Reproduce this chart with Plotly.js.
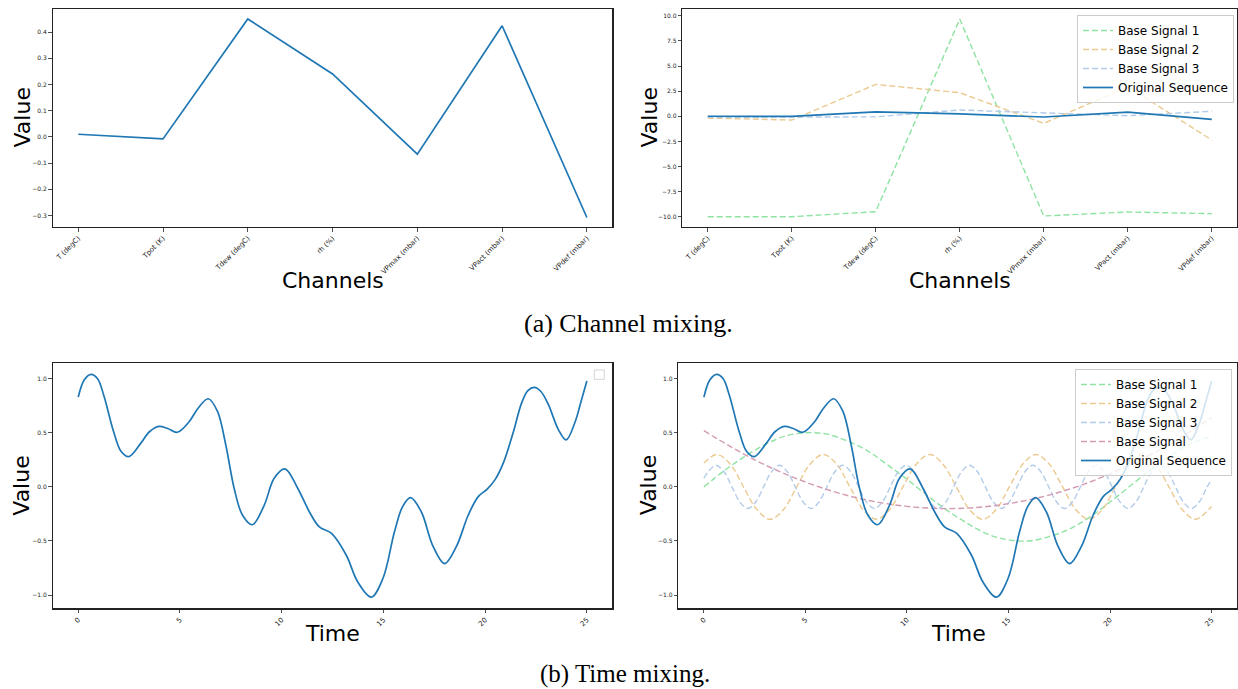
<!DOCTYPE html>
<html>
<head>
<meta charset="utf-8">
<script src="https://cdn.plot.ly/plotly-3.0.1.min.js"></script>
<style>html,body{margin:0;padding:0;background:#fff;}#chart{width:1238px;height:689px;}</style>
</head>
<body>
<div id="chart"></div>
<script>
// ---------- (a) Channel mixing data ----------
const channels = ['T (degC)', 'Tpot (K)', 'Tdew (degC)', 'rh (%)', 'VPmax (mbar)', 'VPact (mbar)', 'VPdef (mbar)'];
const channelOriginal = [0.010, -0.008, 0.450, 0.240, -0.066, 0.424, -0.308];
const channelBase1 = [-9.99, -9.99, -9.49, 9.68, -9.92, -9.52, -9.69];
const channelBase2 = [-0.17, -0.37, 3.18, 2.35, -0.70, 2.95, -2.36];
const channelBase3 = [-0.10, -0.04, -0.05, 0.63, 0.36, 0.06, 0.50];

// ---------- (b) Time mixing data ----------
const origT = [0, 0.3, 0.63, 0.95, 1.25, 1.74, 2.1, 2.48, 3.06, 3.5, 3.96, 4.4, 4.87, 5.44, 5.9, 6.39, 6.84, 7.25, 7.66, 8.07, 8.56, 9.14, 9.63, 10.16, 10.78, 11.36, 11.85, 12.45, 13.17, 13.74, 14.4, 14.97, 15.55, 15.95, 16.34, 16.86, 17.44, 18.01, 18.59, 19.17, 19.66, 20.1, 20.48, 20.89, 21.39, 21.79, 22.1, 22.42, 22.75, 23.11, 23.6, 23.98, 24.42, 24.7, 25];
const origV = [0.83, 0.99, 1.04, 1.00, 0.85, 0.51, 0.33, 0.28, 0.40, 0.51, 0.56, 0.54, 0.505, 0.60, 0.73, 0.815, 0.70, 0.39, -0.01, -0.26, -0.35, -0.17, 0.08, 0.167, -0.01, -0.23, -0.37, -0.43, -0.63, -0.88, -1.02, -0.85, -0.41, -0.18, -0.10, -0.23, -0.55, -0.71, -0.55, -0.26, -0.09, -0.02, 0.065, 0.22, 0.51, 0.775, 0.89, 0.92, 0.88, 0.76, 0.53, 0.435, 0.60, 0.78, 0.98];

const base1T = [0, 1, 2, 3, 4, 5, 6, 7, 8, 9, 10, 11, 12, 13, 14, 15, 16, 17, 18, 19, 20, 21, 22, 23, 24, 25];
const base1V = [0, 0.15, 0.28, 0.39, 0.47, 0.50, 0.49, 0.43, 0.34, 0.21, 0.07, -0.08, -0.22, -0.34, -0.44, -0.49, -0.50, -0.46, -0.39, -0.28, -0.14, 0.01, 0.16, 0.29, 0.40, 0.47];

const base2T = [0, 0.64, 1.30, 1.95, 2.61, 3.26, 3.92, 4.57, 5.23, 5.88, 6.54, 7.19, 7.84, 8.49, 9.15, 9.80, 10.46, 11.12, 11.77, 12.43, 13.08, 13.73, 14.39, 15.04, 15.70, 16.35, 17.01, 17.66, 18.31, 18.96, 19.62, 20.27, 20.93, 21.59, 22.24, 22.90, 23.55, 24.20, 24.86, 25];
const base2V = [0.22, 0.30, 0.21, 0, -0.21, -0.30, -0.21, 0, 0.21, 0.30, 0.21, 0, -0.21, -0.30, -0.21, 0, 0.21, 0.30, 0.21, 0, -0.21, -0.30, -0.21, 0, 0.21, 0.30, 0.21, 0, -0.21, -0.30, -0.21, 0, 0.21, 0.30, 0.21, 0, -0.21, -0.30, -0.21, -0.18];

const base3T = [0, 0.21, 0.60, 0.99, 1.38, 1.77, 2.16, 2.55, 2.94, 3.33, 3.72, 4.11, 4.50, 4.89, 5.28, 5.67, 6.06, 6.45, 6.84, 7.23, 7.62, 8.01, 8.40, 8.79, 9.18, 9.57, 9.96, 10.35, 10.74, 11.13, 11.52, 11.91, 12.30, 12.69, 13.08, 13.47, 13.86, 14.25, 14.64, 15.03, 15.42, 15.81, 16.20, 16.59, 16.98, 17.37, 17.76, 18.15, 18.54, 18.93, 19.32, 19.71, 20.10, 20.49, 20.88, 21.27, 21.66, 22.05, 22.44, 22.83, 23.22, 23.61, 24.00, 24.39, 24.78, 25];
const base3V = [0.08, 0.14, 0.20, 0.14, 0, -0.14, -0.20, -0.14, 0, 0.14, 0.20, 0.14, 0, -0.14, -0.20, -0.14, 0, 0.14, 0.20, 0.14, 0, -0.14, -0.20, -0.14, 0, 0.14, 0.20, 0.14, 0, -0.14, -0.20, -0.14, 0, 0.14, 0.20, 0.14, 0, -0.14, -0.20, -0.14, 0, 0.14, 0.20, 0.14, 0, -0.14, -0.20, -0.14, 0, 0.14, 0.20, 0.14, 0, -0.14, -0.20, -0.14, 0, 0.14, 0.20, 0.14, 0, -0.14, -0.20, -0.14, 0, 0.07];

const base4T = [0, 2.5, 5, 7.5, 10, 12.5, 15, 17.5, 20, 22.5, 25];
const base4V = [0.52, 0.25, 0.045, -0.10, -0.18, -0.20, -0.155, -0.05, 0.12, 0.35, 0.64];

const timeTicks = [0, 5, 10, 15, 20, 25];

// ---------- styles ----------
const C_ORIG = '#1f77b4';
const C_B1 = '#8fe3a2';
const C_B2 = '#ebc98f';
const C_B3 = '#b3cce9';
const C_B4 = '#d39ab3';
const DASH = '6px,3px';

function dashed(x, y, color, name, xa, ya, lg, shape) {
  return {x: x, y: y, type: 'scatter', mode: 'lines', name: name,
    line: {color: color, width: 1.4, dash: DASH, shape: shape || 'linear', smoothing: 1},
    xaxis: xa, yaxis: ya, legend: lg, showlegend: !!lg};
}
function solid(x, y, name, xa, ya, lg, shape) {
  return {x: x, y: y, type: 'scatter', mode: 'lines', name: name,
    line: {color: C_ORIG, width: 1.7, shape: shape || 'linear', smoothing: 1},
    xaxis: xa, yaxis: ya, legend: lg, showlegend: !!lg};
}

const traces = [
  solid(channels, channelOriginal, 'Original Sequence', 'x', 'y', null),
  dashed(channels, channelBase1, C_B1, 'Base Signal 1', 'x2', 'y2', 'legend'),
  dashed(channels, channelBase2, C_B2, 'Base Signal 2', 'x2', 'y2', 'legend'),
  dashed(channels, channelBase3, C_B3, 'Base Signal 3', 'x2', 'y2', 'legend'),
  solid(channels, channelOriginal, 'Original Sequence', 'x2', 'y2', 'legend'),
  solid(origT, origV, 'Original Sequence', 'x3', 'y3', null, 'spline'),
  dashed(base1T, base1V, C_B1, 'Base Signal 1', 'x4', 'y4', 'legend2', 'spline'),
  dashed(base2T, base2V, C_B2, 'Base Signal 2', 'x4', 'y4', 'legend2', 'spline'),
  dashed(base3T, base3V, C_B3, 'Base Signal 3', 'x4', 'y4', 'legend2', 'spline'),
  dashed(base4T, base4V, C_B4, 'Base Signal', 'x4', 'y4', 'legend2', 'spline'),
  solid(origT, origV, 'Original Sequence', 'x4', 'y4', 'legend2', 'spline')
];

function ax(extra, fsize) {
  return Object.assign({
    showgrid: false, zeroline: false, showline: true, mirror: true,
    linecolor: '#222', linewidth: 1.3,
    ticks: 'outside', ticklen: 3.5, tickwidth: 0.8, tickcolor: '#222',
    tickfont: {family: 'DejaVu Sans', size: fsize || 6, color: '#222'}
  }, extra);
}

const topY = [0.67097, 0.98694];
const botY = [0.11713, 0.47271];
const leftX = [0.04265, 0.49459];

function ann(text, px, py, size, angle, family) {
  return {text: text, x: px / 1238, y: 1 - py / 689, xref: 'paper', yref: 'paper',
    xanchor: 'center', yanchor: 'middle', showarrow: false, textangle: angle || 0,
    font: {family: family || 'DejaVu Sans', size: size, color: '#000'}};
}

const legendStyle = {
  bgcolor: 'rgba(255,255,255,0.8)', bordercolor: '#cccccc', borderwidth: 1,
  font: {family: 'DejaVu Sans', size: 12, color: '#000'},
  xanchor: 'right', yanchor: 'top', itemwidth: 30, tracegroupgap: 0
};

const layout = {
  width: 1238, height: 689,
  margin: {l: 0, r: 0, t: 0, b: 0},
  paper_bgcolor: '#ffffff', plot_bgcolor: '#ffffff',
  font: {family: 'DejaVu Sans', color: '#000'},
  xaxis: ax({domain: leftX, anchor: 'y', type: 'category', range: [-0.3, 6.3], tickangle: -45}, 7),
  yaxis: ax({domain: topY, anchor: 'x', range: [-0.343, 0.488], dtick: 0.1, tickformat: '.1f'}),
  xaxis2: ax({domain: [0.55129, 0.99919], anchor: 'y2', type: 'category', range: [-0.3, 6.3], tickangle: -45}, 7),
  yaxis2: ax({domain: topY, anchor: 'x2', range: [-10.985, 10.685], dtick: 2.5, tickformat: '.1f'}),
  xaxis3: ax({domain: leftX, anchor: 'y3', range: [-1.25, 26.25], tickvals: timeTicks, tickangle: -45}, 7),
  yaxis3: ax({domain: botY, anchor: 'x3', range: [-1.123, 1.143], dtick: 0.5, tickformat: '.1f'}),
  xaxis4: ax({domain: [0.54806, 0.99919], anchor: 'y4', range: [-1.25, 26.25], tickvals: timeTicks, tickangle: -45}, 7),
  yaxis4: ax({domain: botY, anchor: 'x4', range: [-1.123, 1.143], dtick: 0.5, tickformat: '.1f'}),
  legend: Object.assign({}, legendStyle, {x: 1234 / 1238, y: 1 - 15 / 689}),
  legend2: Object.assign({}, legendStyle, {x: 1232 / 1238, y: 1 - 369 / 689}),
  shapes: [{type: 'rect', xref: 'paper', yref: 'paper',
    x0: 594.3 / 1238, x1: 604.3 / 1238, y0: 1 - 379.3 / 689, y1: 1 - 370 / 689,
    line: {color: '#d4d4d4', width: 1}, fillcolor: 'rgba(255,255,255,0.8)'}],
  annotations: [
    ann('Value', 22, 117.5, 22, -90),
    ann('Value', 649, 117.5, 22, -90),
    ann('Channels', 332.5, 280, 22),
    ann('Channels', 960, 280, 22),
    ann('Value', 22, 485.7, 22, -90),
    ann('Value', 648.5, 485.7, 22, -90),
    ann('Time', 332, 633.3, 22),
    ann('Time', 958.7, 633.3, 22),
    ann('(a) Channel mixing.', 628, 323, 26, 0, 'Liberation Serif'),
    ann('(b) Time mixing.', 625, 674, 25, 0, 'Liberation Serif')
  ]
};

Plotly.newPlot('chart', traces, layout, {staticPlot: true, displayModeBar: false});
</script>
</body>
</html>
